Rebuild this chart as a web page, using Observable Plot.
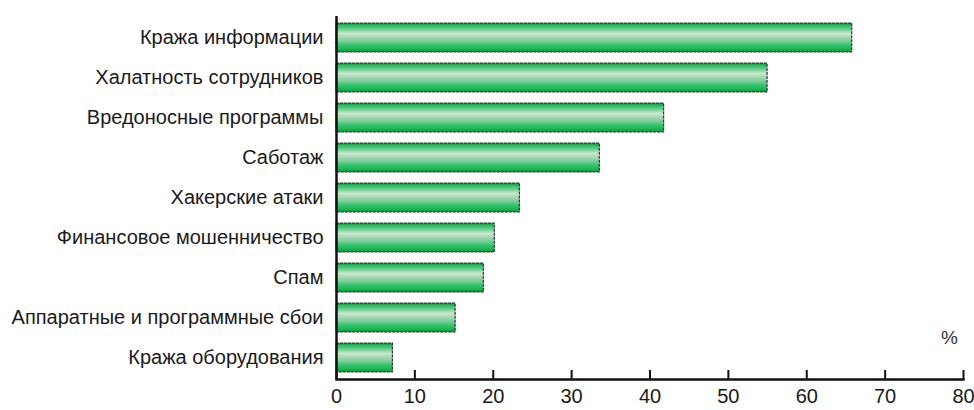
<!DOCTYPE html>
<html>
<head>
<meta charset="utf-8">
<script src="https://cdn.jsdelivr.net/npm/d3@7"></script>
<script src="https://cdn.jsdelivr.net/npm/@observablehq/plot@0.6"></script>
<style>
  html, body { margin: 0; padding: 0; background: #fff; }
</style>
</head>
<body>
<div id="chart"></div>
<script>
const categories = [
  "Кража информации",
  "Халатность сотрудников",
  "Вредоносные программы",
  "Саботаж",
  "Хакерские атаки",
  "Финансовое мошенничество",
  "Спам",
  "Аппаратные и программные сбои",
  "Кража оборудования"
];
const values = [65.8, 55.0, 41.8, 33.6, 23.4, 20.2, 18.8, 15.2, 7.2];
const xTicks = [0, 10, 20, 30, 40, 50, 60, 70, 80];
const unitLabel = "%";

const data = categories.map((c, i) => ({category: c, value: values[i]}));

const svg = Plot.plot({
  width: 974,
  height: 410,
  marginLeft: 336,
  marginRight: 11,
  marginTop: 16,
  marginBottom: 31,
  style: {fontFamily: "'Liberation Sans', Arial, sans-serif", color: "#1a1a1a", background: "#fff"},
  x: {domain: [0, 80], ticks: xTicks, label: null},
  y: {domain: categories, paddingInner: 0.27, paddingOuter: 0.13, label: null},
  marks: [
    Plot.barX(data, {
      x: "value", y: "category",
      fill: "url(#barGrad)",
      stroke: "#26352b", strokeWidth: 1.2, strokeDasharray: "3,1"
    }),
    Plot.ruleX([0], {stroke: "#111", strokeWidth: 2.5}),
    Plot.frame({anchor: "bottom", stroke: "#111", strokeWidth: 2.5}),
    Plot.axisY({tickSize: 0, tickPadding: 13, fontSize: 20, label: null}),
    Plot.axisX({ticks: xTicks, tickSize: -9, strokeWidth: 2, stroke: "#111", tickFormat: () => "", label: null}),
    Plot.axisX({ticks: xTicks, tickSize: 0, tickPadding: 9, fontSize: 20, label: null}),
    Plot.text([unitLabel], {frameAnchor: "bottom-right", dx: -14, dy: -36, fontSize: 19, textAnchor: "middle", fill: "#333"})
  ]
});

const defs = d3.select(svg).insert("defs", ":first-child");
const grad = defs.append("linearGradient").attr("id", "barGrad")
  .attr("x1", 0).attr("y1", 0).attr("x2", 0).attr("y2", 1);
[
  [0, "#1d7e42"], [0.08, "#22bd5c"], [0.22, "#6fcf93"], [0.36, "#cde6cf"],
  [0.5, "#a6d7b4"], [0.63, "#78cd9a"], [0.78, "#2fc467"], [0.92, "#14b44c"], [1, "#0c8a38"]
].forEach(([o, c]) => grad.append("stop").attr("offset", o).attr("stop-color", c));

document.getElementById("chart").appendChild(svg);
</script>
</body>
</html>
